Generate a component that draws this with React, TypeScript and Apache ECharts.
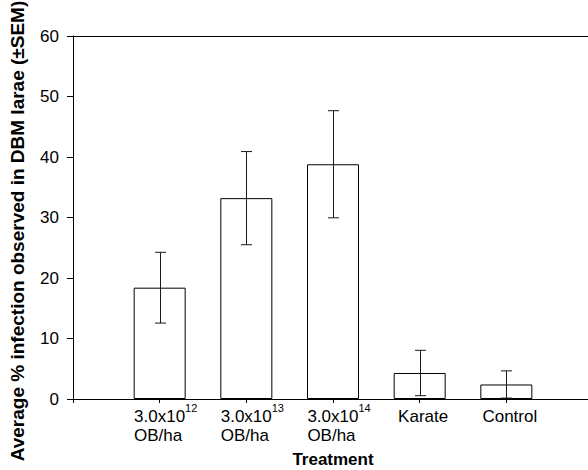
import React, { useEffect, useRef } from "react";
import * as echarts from "echarts";

// Treatment labels (rich-text markup for superscripts)
const treatmentLabels = [
  "3.0x10{sup|12}\nOB/ha",
  "3.0x10{sup|13}\nOB/ha",
  "3.0x10{sup|14}\nOB/ha",
  "Karate",
  "Control",
];
// Positions of the treatments on the x axis
const treatmentPositions = [1, 2, 3, 4, 5];
// Mean % infection and SEM
const means = [18.4, 33.2, 38.8, 4.3, 2.4];
const sems = [5.85, 7.7, 8.85, 3.75, 2.25];
// Y ticks
const yMin = 0;
const yMax = 60;
const yInterval = 10;

const FONT = "'Liberation Sans', Arial, Helvetica, sans-serif";

export default function App() {
  const ref = useRef<HTMLDivElement>(null);

  useEffect(() => {
    if (!ref.current) return;
    const chart = echarts.init(ref.current, null, { renderer: "svg" });

    const barData = treatmentPositions.map((x, i) => [x, means[i]]);
    const errData = treatmentPositions.map((x, i) => [x, means[i] - sems[i], means[i] + sems[i]]);

    const labelFor = (v: number) => {
      const idx = treatmentPositions.indexOf(Math.round(v));
      if (Math.abs(v - Math.round(v)) > 1e-6 || idx < 0) return "";
      const lines = treatmentLabels[idx].split("\n");
      if (lines.length === 1) return `{s|${lines[0]}}`;
      return lines
        .map((l) => (l.indexOf("{sup|") >= 0 ? l.replace(/^([^{]*)/, "{m|$1}") : `{m|${l}}`))
        .join("\n");
    };

    const option: any = {
      animation: false,
      backgroundColor: "#ffffff",
      grid: {
        left: 73,
        top: 36,
        width: 520,
        height: 363,
        containLabel: false,
        outerBoundsMode: "none",
      },
      xAxis: [
        {
          type: "value",
          min: 0,
          max: 6,
          interval: 1,
          position: "bottom",
          axisLine: { show: true, onZero: false, lineStyle: { color: "#000", width: 1 } },
          axisTick: { show: true, length: 4, inside: false, lineStyle: { color: "#000" } },
          splitLine: { show: false },
          axisLabel: {
            formatter: (v: number) => labelFor(v),
            margin: 8,
            color: "#000",
            fontFamily: FONT,
            fontSize: 17,
            showMinLabel: true,
            showMaxLabel: true,
            rich: {
              m: {
                fontFamily: FONT,
                fontSize: 17,
                lineHeight: 19,
                color: "#000",
                align: "left",
                padding: [0, 0, 0, 12],
              },
              s: {
                fontFamily: FONT,
                fontSize: 17,
                lineHeight: 19,
                color: "#000",
                padding: [0, 0, 0, 7],
              },
              sup: {
                fontFamily: FONT,
                fontSize: 11,
                lineHeight: 6,
                color: "#000",
                verticalAlign: "bottom",
                padding: [0, 0, 13, 0],
                align: "left",
              },
            },
          },
          name: "Treatment",
          nameLocation: "middle",
          nameGap: 52,
          nameTextStyle: { fontFamily: FONT, fontSize: 17, fontWeight: "bold", color: "#000" },
        },
        {
          type: "value",
          min: 0,
          max: 6,
          position: "top",
          axisLine: { show: true, onZero: false, lineStyle: { color: "#000", width: 1 } },
          axisTick: { show: false },
          axisLabel: { show: false },
          splitLine: { show: false },
        },
      ],
      yAxis: {
        type: "value",
        min: yMin,
        max: yMax,
        interval: yInterval,
        axisLine: { show: true, onZero: false, lineStyle: { color: "#000", width: 1 } },
        axisTick: { show: true, length: 6, lineStyle: { color: "#000" } },
        splitLine: { show: false },
        axisLabel: { margin: 14, color: "#000", fontFamily: FONT, fontSize: 17 },
      },
      graphic: [
        {
          type: "text",
          x: 17,
          y: 231,
          rotation: Math.PI / 2,
          style: {
            text: "Average % infection observed in DBM larae (±SEM)",
            fontFamily: FONT,
            fontSize: 19,
            fontWeight: "bold",
            fill: "#000",
            textAlign: "center",
            textVerticalAlign: "middle",
          },
        },
      ],
      series: [
        {
          type: "bar",
          data: barData,
          barWidth: 52,
          itemStyle: { color: "#ffffff", borderColor: "#000", borderWidth: 1 },
          z: 2,
        },
        {
          type: "custom",
          data: errData,
          z: 5,
          renderItem: (params: any, api: any) => {
            const x = api.value(0);
            const lo = api.coord([x, api.value(1)]);
            const hi = api.coord([x, api.value(2)]);
            const cx = Math.round(lo[0]) + 0.5;
            const hw = 5.5;
            const st = { stroke: "#1a1a1a", lineWidth: 1 };
            return {
              type: "group",
              children: [
                { type: "line", shape: { x1: cx, y1: lo[1], x2: cx, y2: hi[1] }, style: st },
                { type: "line", shape: { x1: cx - hw, y1: hi[1], x2: cx + hw, y2: hi[1] }, style: st },
                { type: "line", shape: { x1: cx - hw, y1: lo[1], x2: cx + hw, y2: lo[1] }, style: st },
              ],
            };
          },
        },
      ],
    };

    chart.setOption(option);
    return () => chart.dispose();
  }, []);

  return (
    <div
      ref={ref}
      style={{ position: "fixed", left: 0, top: 0, width: 588, height: 470, background: "#fff" }}
    />
  );
}
